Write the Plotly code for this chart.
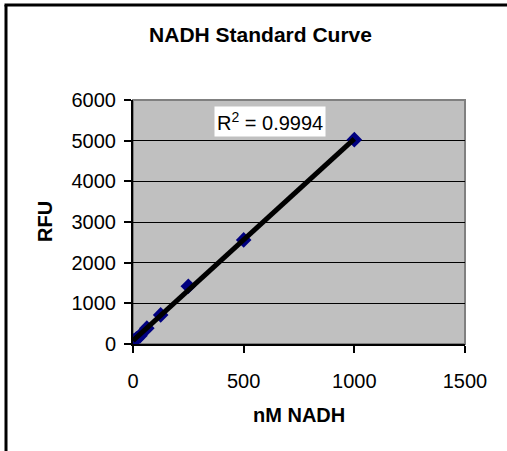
import numpy as np
import plotly.graph_objects as go

nadh_nM = [0, 15.6, 31.25, 62.5, 125, 250, 500, 1000]
rfu = [80, 130, 200, 390, 715, 1420, 2560, 5025]
x_ticks = [0, 500, 1000, 1500]
y_ticks = [0, 1000, 2000, 3000, 4000, 5000, 6000]
r2_label = "R<sup>2</sup> = 0.9994"

x = np.array(nadh_nM)
y = np.array(rfu)
slope, intercept = np.polyfit(x, y, 1)
fit_x = np.array([x.min(), x.max()])
fit_y = slope * fit_x + intercept

W, H = 507, 451
L, R, T, B = 133, 42, 100, 107
pw, ph = W - L - R, H - T - B
font = "Liberation Sans, Arial, sans-serif"

fig = go.Figure()
fig.add_trace(go.Scatter(x=x, y=y, mode="markers",
                         marker=dict(symbol="diamond", size=12, color="#000080"),
                         showlegend=False))
fig.add_trace(go.Scatter(x=fit_x, y=fit_y, mode="lines",
                         line=dict(color="black", width=5), showlegend=False))

def px_x(p):
    return (p - L) / pw

def px_y(p):
    return (H - B - p) / ph

fig.update_layout(
    width=W, height=H,
    margin=dict(l=L, r=R, t=T, b=B),
    paper_bgcolor="white", plot_bgcolor="#C0C0C0",
    font=dict(family=font, size=20, color="black"),
    title=dict(text="<b>NADH Standard Curve</b>", x=260.5 / W, xanchor="center",
               y=1 - 35 / H, yanchor="middle", font=dict(size=21)),
    xaxis=dict(range=[0, 1500], tickvals=x_ticks, showgrid=False, zeroline=False,
               showline=True, linecolor="black", linewidth=2, mirror=False,
               ticks="outside", ticklen=7, tickwidth=2, tickcolor="black",
               ticklabelstandoff=11),
    yaxis=dict(range=[0, 6000], tickvals=y_ticks, showgrid=True, gridcolor="black",
               gridwidth=1, zeroline=False, showline=True, linecolor="black",
               linewidth=2, ticks="outside", ticklen=7, tickwidth=2,
               tickcolor="black", ticklabelstandoff=4),
    shapes=[
        dict(type="rect", xref="paper", yref="paper", x0=0, x1=1, y0=0, y1=1,
             line=dict(color="#808080", width=2), layer="below"),
        dict(type="line", xref="paper", yref="paper",
             x0=px_x(6), x1=px_x(6), y0=px_y(470), y1=px_y(5),
             line=dict(color="black", width=3)),
        dict(type="line", xref="paper", yref="paper",
             x0=px_x(4.5), x1=px_x(530), y0=px_y(5), y1=px_y(5),
             line=dict(color="black", width=3)),
    ],
    annotations=[
        dict(text="<b>nM NADH</b>", xref="paper", yref="paper",
             x=0.5, y=px_y(415), xanchor="center", yanchor="middle",
             showarrow=False, font=dict(size=20)),
        dict(text="<b>RFU</b>", xref="paper", yref="paper",
             x=px_x(45), y=0.5, xanchor="center", yanchor="middle",
             textangle=-90, showarrow=False, font=dict(size=20)),
        dict(text=r2_label, xref="paper", yref="paper",
             x=px_x(214), y=px_y(121.5), xanchor="left", yanchor="middle",
             showarrow=False, bgcolor="white", borderpad=2,
             font=dict(size=20)),
    ],
)

fig.write_html(
    "out.html",
    config={"displayModeBar": False},
    post_script="document.body.style.margin='0';document.body.style.overflow='hidden';",
)
